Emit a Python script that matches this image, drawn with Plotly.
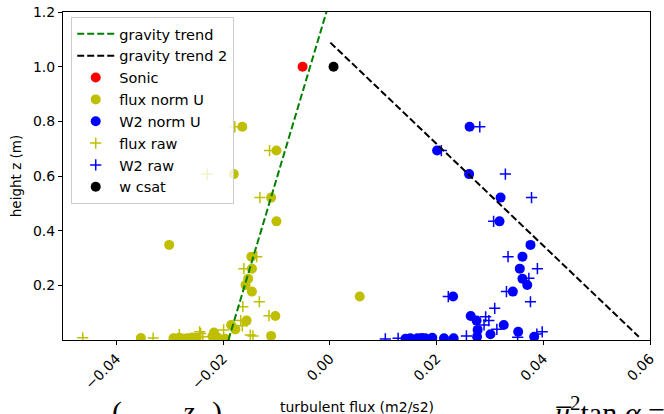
import plotly.graph_objects as go

# --- measured profiles: turbulent flux (m2/s2) against height z (m) ---
sonic_x = [-0.0051]
sonic_z = [1.0]

csat_x = [0.0007]
csat_z = [1.0]

flux_norm_x = [-0.0164, -0.0100, -0.0180, -0.0110, -0.0100, -0.0301, -0.0147, -0.0146,
               -0.0153, -0.0158, -0.0146, 0.0056, -0.0102, -0.0156, -0.0185, -0.0177,
               -0.0217, -0.0110, -0.0354, -0.0293, -0.0282, -0.0267, -0.0258, -0.0250,
               -0.0220, -0.0210, -0.0196]
flux_norm_z = [0.780, 0.693, 0.607, 0.521, 0.434, 0.348, 0.305, 0.261,
               0.224, 0.201, 0.177, 0.159, 0.088, 0.071, 0.055, 0.039,
               0.027, 0.015, 0.007, 0.006, 0.008, 0.006, 0.009, 0.007,
               0.014, 0.008, 0.005]

w2_norm_x = [0.0262, 0.0201, 0.0261, 0.0320, 0.0318, 0.0376, 0.0361, 0.0356,
             0.0361, 0.0370, 0.0343, 0.0231, 0.0264, 0.0275, 0.0326, 0.0277,
             0.0353, 0.0301, 0.0383, 0.0276, 0.0142, 0.0151, 0.0164, 0.0172,
             0.0179, 0.0192, 0.0214, 0.0232]
w2_norm_z = [0.780, 0.693, 0.607, 0.521, 0.434, 0.348, 0.305, 0.261,
             0.224, 0.201, 0.177, 0.159, 0.088, 0.071, 0.055, 0.037,
             0.030, 0.021, 0.012, 0.012, 0.005, 0.006, 0.006, 0.007,
             0.006, 0.008, 0.006, 0.006]

flux_raw_x = [-0.0178, -0.0113, -0.0230, -0.0131, -0.0137, -0.0161, -0.0132, -0.0163,
              -0.0114, -0.0167, -0.0164, -0.0149, -0.0144, -0.0199, -0.0242, -0.0463,
              -0.0331, -0.0282, -0.0244, -0.0238]
flux_raw_z = [0.780, 0.693, 0.607, 0.521, 0.305, 0.261, 0.140, 0.122,
              0.089, 0.071, 0.052, 0.018, 0.015, 0.037, 0.024, 0.008,
              0.007, 0.020, 0.030, 0.012]

w2_raw_x = [0.0281, 0.0209, 0.0329, 0.0378, 0.0307, 0.0334, 0.0389, 0.0373,
            0.0331, 0.0376, 0.0222, 0.0309, 0.0292, 0.0298, 0.0289, 0.0313,
            0.0256, 0.0398, 0.0388, 0.0352, 0.0104, 0.0128]
w2_raw_z = [0.780, 0.693, 0.607, 0.521, 0.434, 0.305, 0.261, 0.226,
            0.177, 0.140, 0.159, 0.116, 0.085, 0.071, 0.055, 0.039,
            0.015, 0.030, 0.022, 0.010, 0.004, 0.006]

# gravity-driven trend lines (end points)
trend_x = [-0.0190, 0.0009]
trend_z = [0.0, 1.30]
trend2_x = [0.0001, 0.0579]
trend2_z = [1.088, 0.012]

x_ticks = [-0.04, -0.02, 0.00, 0.02, 0.04, 0.06]
y_ticks = [0.2, 0.4, 0.6, 0.8, 1.0, 1.2]

YELLOW = "#bfbf00"
BLUE = "#0000ff"
FONT = "DejaVu Sans"

fig = go.Figure()


def plus_trace(x, z, name, color, rank):
    return go.Scatter(x=x, y=z, mode="markers", name=name, legendrank=rank,
                      marker=dict(symbol="cross-thin-open", size=8,
                                  line=dict(width=1.5, color=color), color=color))


def dot_trace(x, z, name, color, rank):
    return go.Scatter(x=x, y=z, mode="markers", name=name, legendrank=rank,
                      marker=dict(symbol="circle", size=10, color=color,
                                  line=dict(width=0)))


fig.add_trace(plus_trace(flux_raw_x, flux_raw_z, "flux raw", YELLOW, 6))
fig.add_trace(plus_trace(w2_raw_x, w2_raw_z, "W2 raw", BLUE, 7))
fig.add_trace(dot_trace(sonic_x, sonic_z, "Sonic", "#ff0000", 3))
fig.add_trace(dot_trace(flux_norm_x, flux_norm_z, "flux norm U", YELLOW, 4))
fig.add_trace(dot_trace(w2_norm_x, w2_norm_z, "W2 norm U", BLUE, 5))
fig.add_trace(dot_trace(csat_x, csat_z, "w csat", "#000000", 8))
fig.add_trace(go.Scatter(x=trend_x, y=trend_z, mode="lines", name="gravity trend",
                         legendrank=1,
                         line=dict(color="#008000", width=2, dash="7px,3px")))
fig.add_trace(go.Scatter(x=trend2_x, y=trend2_z, mode="lines", name="gravity trend 2",
                         legendrank=2,
                         line=dict(color="#000000", width=2, dash="7px,3px")))

axis_common = dict(showline=True, linecolor="#000000", linewidth=1, mirror=True,
                   ticks="outside", ticklen=4, tickwidth=1, tickcolor="#000000",
                   showgrid=False, zeroline=False, automargin=False,
                   tickfont=dict(family=FONT, size=14, color="#000000"))

fig.update_xaxes(range=[-0.05, 0.06], tickvals=x_ticks, tickformat=".2f",
                 tickangle=-45, **axis_common)
fig.update_yaxes(range=[0, 1.2], tickvals=y_ticks, tickformat=".1f",
                 title=dict(text="height z (m)", font=dict(family=FONT, size=13.5,
                                                           color="#000000"),
                            standoff=8),
                 **axis_common)

fig.update_layout(
    width=664, height=414,
    margin=dict(l=63, r=14, t=12, b=74),
    paper_bgcolor="#ffffff", plot_bgcolor="#ffffff",
    font=dict(family=FONT, color="#000000"),
    showlegend=True,
    legend=dict(x=0.014, y=0.985, xanchor="left", yanchor="top",
                bgcolor="rgba(255,255,255,0.8)", bordercolor="#cccccc",
                borderwidth=1, font=dict(family=FONT, size=14.5, color="#000000"),
                tracegroupgap=0, itemwidth=37),
)

# x-axis title and the surrounding page text below the chart
fig.add_annotation(x=0.5, y=-0.175, xref="paper", yref="paper", yanchor="top",
                   text="turbulent flux (m2/s2)", showarrow=False,
                   font=dict(family=FONT, size=14, color="#000000"))
serif = dict(family="Liberation Serif", size=30, color="#000000")
fig.add_annotation(x=(110 - 63) / 587, y=-0.161, xref="paper", yref="paper",
                   xanchor="left", yanchor="top", text="(", showarrow=False, font=serif)
fig.add_annotation(x=(180 - 63) / 587, y=-0.162, xref="paper", yref="paper",
                   xanchor="left", yanchor="top", text="<i>z</i>", showarrow=False,
                   font=serif)
fig.add_annotation(x=(210 - 63) / 587, y=-0.161, xref="paper", yref="paper",
                   xanchor="left", yanchor="top", text=")", showarrow=False, font=serif)
fig.add_annotation(x=(553 - 63) / 587, y=-0.148, xref="paper", yref="paper",
                   xanchor="left", yanchor="top",
                   text="<i>u̅</i><sup>2</sup>tan <i>α</i> =", showarrow=False,
                   font=serif)

fig.write_html("out.html")
